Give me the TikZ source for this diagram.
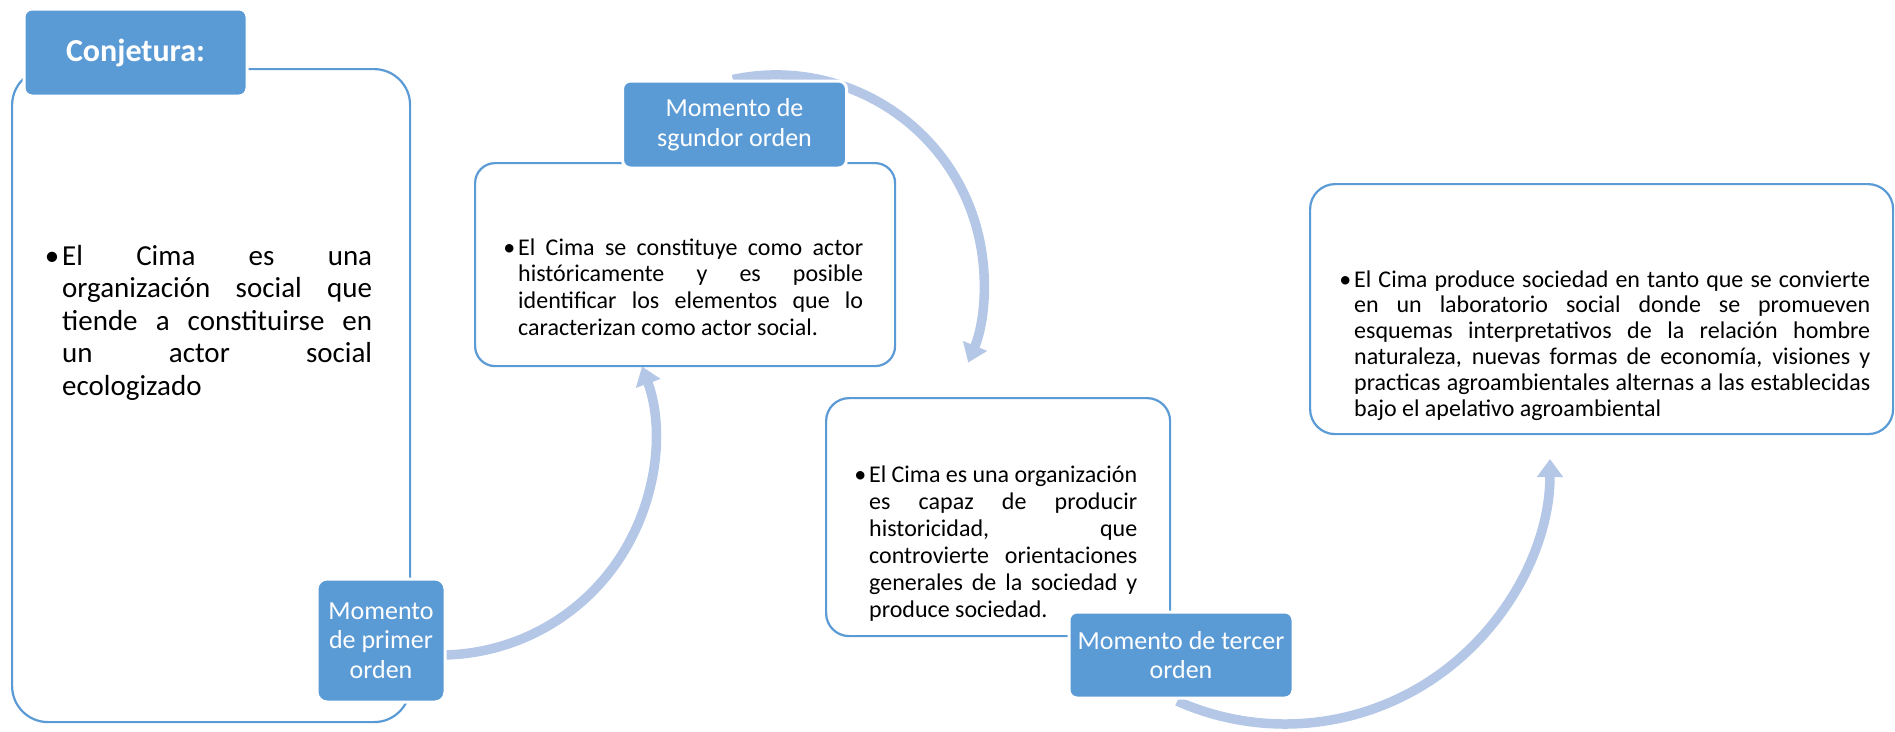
\documentclass[tikz,border=0pt]{standalone}
\usepackage{fontspec}
\setmainfont{Carlito}
\usetikzlibrary{arrows.meta}
\definecolor{hdr}{RGB}{91,155,213}
\definecolor{arw}{RGB}{180,199,231}
\newcommand\jl[1]{\makebox[\linewidth][s]{#1}}
\newcommand\bul{\leavevmode\llap{•\hspace{3pt}}}
\begin{document}
\begin{tikzpicture}[x=1pt,y=-1pt,
  bigbox/.style={draw=hdr, line width=2.2pt, fill=white, anchor=north west, inner sep=0pt},
  hdrbox/.style={draw=white, line width=3pt, fill=hdr, text=white, align=center, inner sep=0pt, font=\fontsize{26}{29.5}\selectfont},
  flow/.style={draw=arw, line width=9.5pt, -{Triangle[width=25pt,length=18pt]}},
  body/.style={anchor=base west, inner sep=0pt}]
\useasboundingbox (0,0) rectangle (1895,731);

% curved arrows (drawn first, behind the boxes)
\coordinate (a1s) at (432.5,654.9);
\coordinate (a2s) at (732.8,79.5);
\coordinate (a3s) at (1177.2,701.1);
\draw[flow] (a1s) arc[start angle=-92, end angle=20, radius=215pt] coordinate (a1e);
\draw[flow] (a2s) arc[start angle=102, end angle=-22.5, radius=208pt] coordinate (a2e);
\draw[flow] (a3s) arc[start angle=-114, end angle=0, radius=265pt] coordinate (a3e);

% content boxes
\node[bigbox, minimum width=398pt, minimum height=653pt, rounded corners=36pt] (b1) at (11,68) {};
\node[bigbox, minimum width=420pt, minimum height=203pt, rounded corners=20pt] (b2) at (474,162) {};
\node[bigbox, minimum width=344pt, minimum height=238pt, rounded corners=23pt] (b3) at (825,397) {};
\node[bigbox, minimum width=583pt, minimum height=250pt, rounded corners=25pt] (b4) at (1309,183) {};

% headers
\node[hdrbox, minimum width=223pt, minimum height=87pt, rounded corners=8pt, font=\fontsize{32}{35}\selectfont\bfseries] (h1) at (135.5,52.5) {Conjetura:};
\node[hdrbox, minimum width=128pt, minimum height=123pt, rounded corners=10pt] (h2) at (381,640.5) {Momento\\de primer\\orden};
\node[hdrbox, minimum width=224pt, minimum height=87pt, rounded corners=8pt] (h3) at (734.5,124.5) {Momento de\\sgundor orden};
\node[hdrbox, minimum width=224pt, minimum height=86pt, rounded corners=8pt] (h4) at (1181,655) {Momento de tercer\\orden};

% texts
\node[body] (t1) at (62,265.5) {\parbox[t]{310pt}{\fontsize{29}{32.4}\selectfont\bul\jl{El Cima es una}\\\jl{organización social que}\\\jl{tiende a constituirse en}\\\jl{un actor social}\\ecologizado}};
\node[body] (t2) at (518,255) {\parbox[t]{345pt}{\fontsize{24}{26.7}\selectfont\bul\jl{El Cima se constituye como actor}\\\jl{históricamente y es posible}\\\jl{identificar los elementos que lo}\\caracterizan como actor social.}};
\node[body] (t3) at (869,482) {\parbox[t]{268pt}{\fontsize{24}{27}\selectfont\bul\jl{El Cima es una organización}\\\jl{es capaz de producir}\\\jl{historicidad, que}\\\jl{controvierte orientaciones}\\\jl{generales de la sociedad y}\\produce sociedad.}};
\node[body] (t4) at (1354,287) {\parbox[t]{516pt}{\fontsize{24}{25.9}\selectfont\bul\jl{El Cima produce sociedad en tanto que se convierte}\\\jl{en un laboratorio social donde se promueven}\\\jl{esquemas interpretativos de la relación hombre}\\\jl{naturaleza, nuevas formas de economía, visiones y}\\\jl{practicas agroambientales alternas a las establecidas}\\bajo el apelativo agroambiental}};
\end{tikzpicture}
\end{document}
